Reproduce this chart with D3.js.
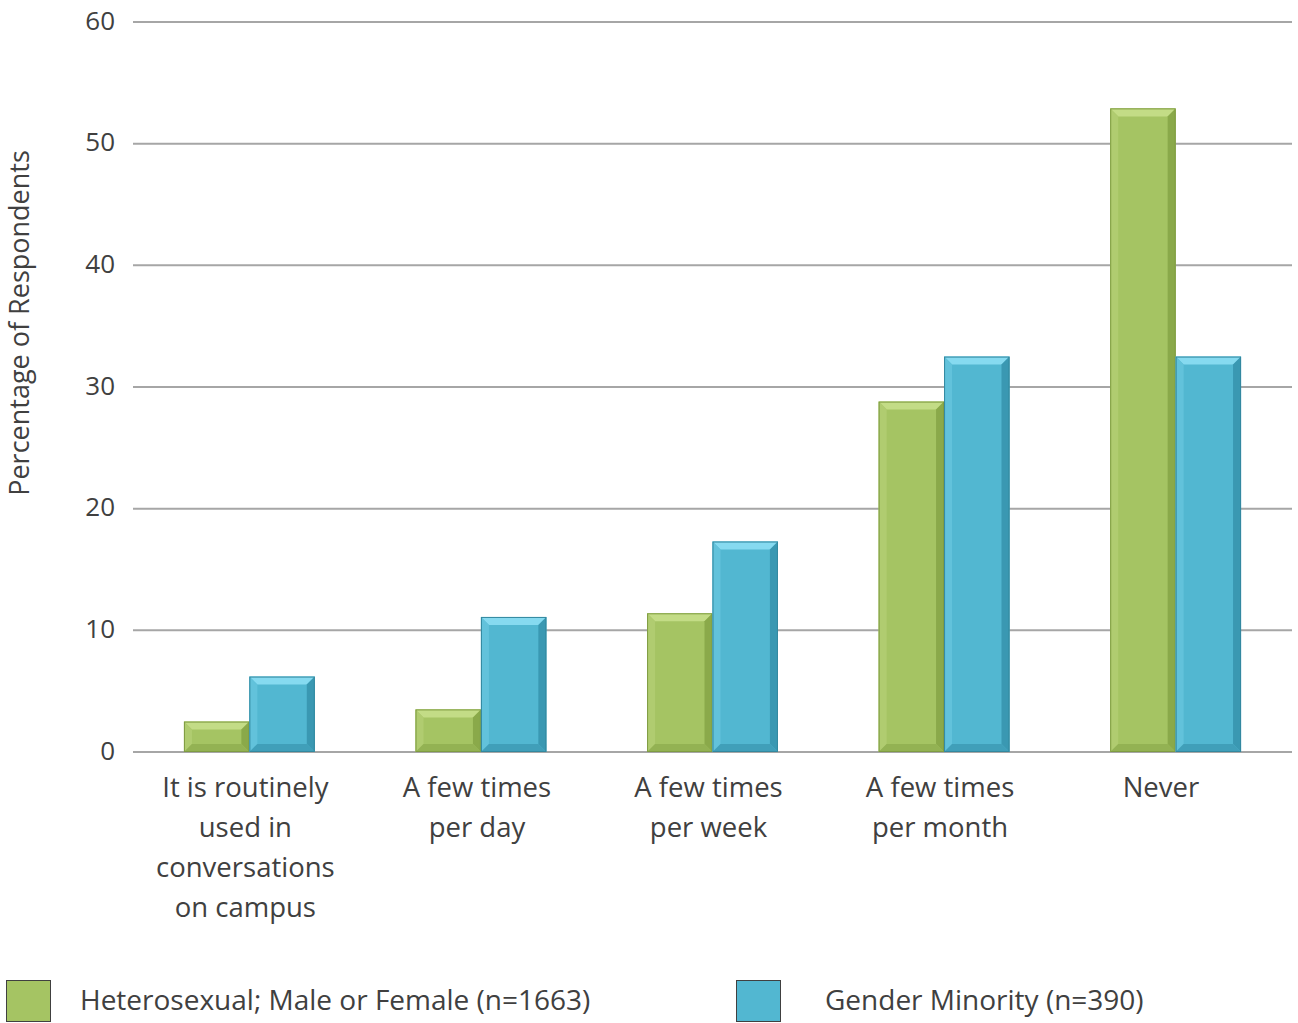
<!DOCTYPE html>
<html><head><meta charset="utf-8">
<script src="https://cdn.jsdelivr.net/npm/d3@7"></script>
<style>body{margin:0;background:#fff;} text{font-family:"Open Sans",Lato,sans-serif;fill:#404040;}</style>
</head><body>
<svg id="c" width="1298" height="1023"></svg>
<script>
const categories = [["It is routinely","used in","conversations","on campus"],["A few times","per day"],["A few times","per week"],["A few times","per month"],["Never\u00a0\u00a0\u00a0"]];
const catKeys = ["routine","day","week","month","never"];
const seriesNames = ["Heterosexual; Male or Female (n=1663)","Gender Minority (n=390)"];
const heteroValues = [2.5, 3.5, 11.4, 28.8, 52.9];
const minorityValues = [6.2, 11.1, 17.3, 32.5, 32.5];
const yTicks = [0,10,20,30,40,50,60];

(function(){
const svg = d3.select("#c");
const pL = 133, pR = 1292, pT = 22, pB = 752;
const x = d3.scaleBand().domain(catKeys).range([pL, pR]).paddingInner(0.435).paddingOuter(0.22);
const xs = d3.scaleBand().domain([0,1]).range([0, x.bandwidth()]);
const y = d3.scaleLinear().domain([0,60]).range([pB, pT]);

svg.append("g").selectAll("line").data(yTicks).join("line")
  .attr("x1", pL).attr("x2", pR).attr("y1", d=>y(d)).attr("y2", d=>y(d))
  .attr("stroke", "#a6a6a6").attr("stroke-width", 2);
svg.append("g").selectAll("text").data(yTicks).join("text")
  .attr("x", 115).attr("y", d=>y(d)).attr("dy","0.3em").attr("text-anchor","end")
  .attr("font-size", 26).text(d=>d);

const colors = [
  {base:"#a5c463", top:"#c3dc86", left:"#b0cc70", right:"#8aa94a", bottom:"#93b253", stroke:"#7f9c42"},
  {base:"#52b7d1", top:"#86daf0", left:"#62c2db", right:"#3a98b2", bottom:"#409fb9", stroke:"#33889f"}
];
const series = [heteroValues, minorityValues];
const bev = 8;
const g = svg.append("g");
series.forEach((vals, si) => {
  const c = colors[si];
  vals.forEach((v, i) => {
    const x0 = x(catKeys[i]) + xs(si), w = xs.bandwidth();
    const y0 = y(v), y1 = y(0), x1 = x0 + w;
    const b = Math.min(bev, (y1-y0)/2);
    const bg = g.append("g");
    bg.append("rect").attr("x",x0).attr("y",y0).attr("width",w).attr("height",y1-y0).attr("fill",c.base);
    bg.append("polygon").attr("points",[[x0,y0],[x1,y0],[x1-b,y0+b],[x0+b,y0+b]].join(" ")).attr("fill",c.top);
    bg.append("polygon").attr("points",[[x0,y0],[x0+b,y0+b],[x0+b,y1-b],[x0,y1]].join(" ")).attr("fill",c.left);
    bg.append("polygon").attr("points",[[x1,y0],[x1-b,y0+b],[x1-b,y1-b],[x1,y1]].join(" ")).attr("fill",c.right);
    bg.append("polygon").attr("points",[[x0,y1],[x0+b,y1-b],[x1-b,y1-b],[x1,y1]].join(" ")).attr("fill",c.bottom);
    bg.append("rect").attr("x",x0+0.5).attr("y",y0+0.5).attr("width",w-1).attr("height",y1-y0-1)
      .attr("fill","none").attr("stroke",c.stroke).attr("stroke-width",1);
  });
});

const xl = svg.append("g");
catKeys.forEach((k, i) => {
  const cx = x(k)+x.bandwidth()/2 - 4;
  const t = xl.append("text").attr("x", cx).attr("y", 797).attr("text-anchor","middle").attr("font-size",27.5);
  categories[i].forEach((line, j) => t.append("tspan").attr("x", cx).attr("dy", j===0?0:40).text(line));
});

svg.append("text").attr("transform","translate(29,323) rotate(-90)").attr("text-anchor","middle")
  .attr("font-size",27).text("Percentage of Respondents");

const legX = [6, 736], legTX = [80, 825];
seriesNames.forEach((n, i) => {
  svg.append("rect").attr("x",legX[i]+0.5).attr("y",980.5).attr("width",44).attr("height",41)
    .attr("fill",colors[i].base).attr("stroke","#404040").attr("stroke-width",1);
  svg.append("text").attr("x",legTX[i]).attr("y",1010).attr("font-size",28).text(n);
});
})();
</script>
</body></html>
